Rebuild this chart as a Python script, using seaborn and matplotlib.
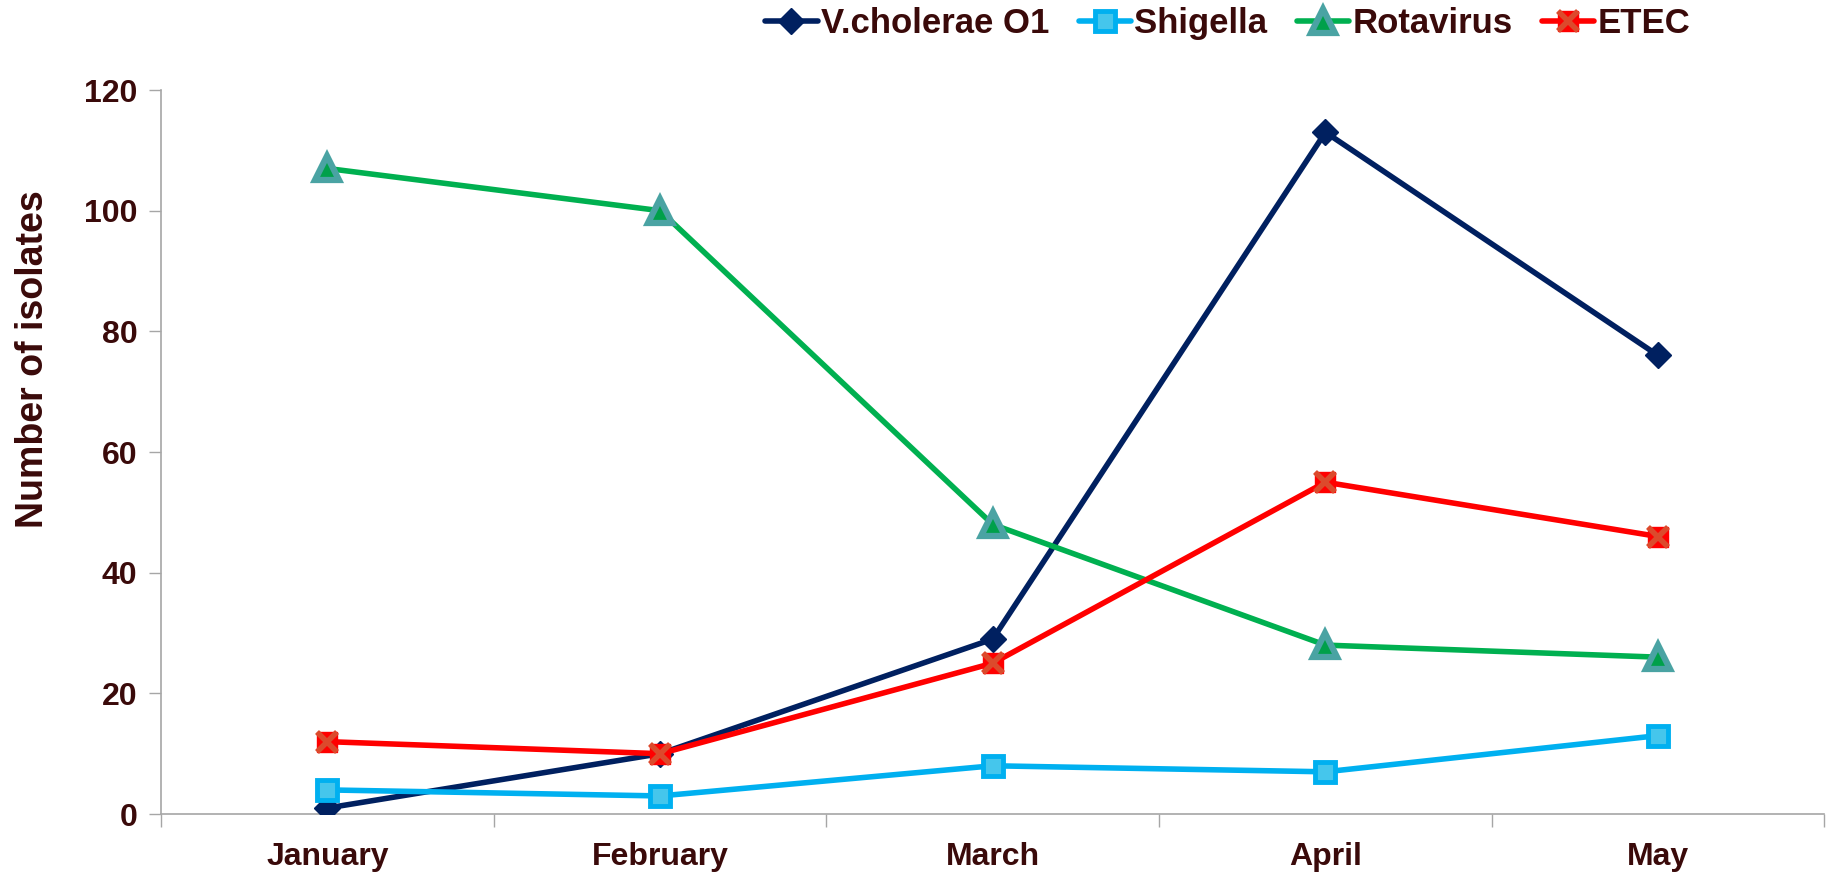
import matplotlib
matplotlib.use("Agg")
import matplotlib.pyplot as plt
import seaborn as sns
import pandas as pd
from matplotlib.legend_handler import HandlerTuple

months = ["January", "February", "March", "April", "May"]
vcholerae = [1, 10, 29, 113, 76]
shigella = [4, 3, 8, 7, 13]
rotavirus = [107, 100, 48, 28, 26]
etec = [12, 10, 25, 55, 46]
series_names = ["V.cholerae O1", "Shigella", "Rotavirus", "ETEC"]
yticks = [0, 20, 40, 60, 80, 100, 120]

sns.set_theme(style="white")
plt.rcParams['font.family'] = ['Liberation Sans', 'DejaVu Sans']
txt = "#3a0a0a"
grey = "#a6a6a6"

fig = plt.figure(figsize=(18.41, 8.74), dpi=100)
ax = fig.add_axes([0.0875, 0.0686, 0.9035, 0.8284])

pos = list(range(len(months)))
df = pd.DataFrame({"pos": pos, "V": vcholerae, "S": shigella, "R": rotavirus, "E": etec})

lw = 4.0
sns.lineplot(data=df, x="pos", y="V", ax=ax, color="#002060", lw=lw, marker="D",
             markersize=13, markerfacecolor="#002060", markeredgecolor="#002060",
             markeredgewidth=1, label=series_names[0], zorder=3)
sns.lineplot(data=df, x="pos", y="S", ax=ax, color="#00b0f0", lw=lw, marker="s",
             markersize=15, markerfacecolor="#45c6ec", markeredgecolor="#00b0f0",
             markeredgewidth=3.5, label=series_names[1], zorder=3)
sns.lineplot(data=df, x="pos", y="R", ax=ax, color="#00b050", lw=lw, marker="^",
             markersize=17, markerfacecolor="#00a04a", markeredgecolor="#4aa3a3",
             markeredgewidth=4.5, label=series_names[2], zorder=3)
sns.lineplot(data=df, x="pos", y="E", ax=ax, color="#ff0000", lw=lw, marker="s",
             markersize=14, markerfacecolor="#ff0000", markeredgecolor="#ff0000",
             markeredgewidth=1, label=series_names[3], zorder=4)
xov, = ax.plot(df["pos"], df["E"], linestyle="none", marker="x", markersize=14,
               markeredgewidth=4, color="#dc4a2c", zorder=5)

handles, labels = ax.get_legend_handles_labels()
handles = list(handles)
handles[3] = (handles[3], xov)
ax.legend(handles, labels, handler_map={tuple: HandlerTuple(ndivide=1, pad=0)},
          ncol=4, loc="center", bbox_to_anchor=(0.667, 0.973),
          bbox_transform=fig.transFigure, frameon=False,
          prop={"weight": "bold", "size": 25}, labelcolor=txt,
          handlelength=1.5, handletextpad=0.1, columnspacing=0.85)

ax.set_xlim(-0.5, len(months) - 0.5)
ax.set_ylim(0, 120)
ax.set_yticks(yticks)
ax.set_yticklabels([str(v) for v in yticks])
ax.set_xticks(pos)
ax.set_xticklabels(months)
ax.set_xticks([p + 0.5 for p in pos[:-1]] + [-0.5, len(months) - 0.5], minor=True)
ax.tick_params(axis="x", which="major", length=0, pad=20, labelsize=23, labelcolor=txt)
ax.tick_params(axis="x", which="minor", length=9, width=1, color=grey, direction="out", bottom=True)
ax.tick_params(axis="y", which="major", length=9, width=1, color=grey, direction="out",
               left=True, pad=8, labelsize=23, labelcolor=txt)
for t in ax.get_xticklabels() + ax.get_yticklabels():
    t.set_fontweight("bold")

ax.set_xlabel("")
ax.set_ylabel("Number of isolates", fontsize=27, fontweight="bold", color=txt)
ax.yaxis.set_label_coords(-0.066, 0.628)

for s in ["top", "right"]:
    ax.spines[s].set_visible(False)
for s in ["left", "bottom"]:
    ax.spines[s].set_color(grey)
    ax.spines[s].set_linewidth(1.2)
ax.grid(False)

fig.savefig("out.png", dpi=100, facecolor="white")
